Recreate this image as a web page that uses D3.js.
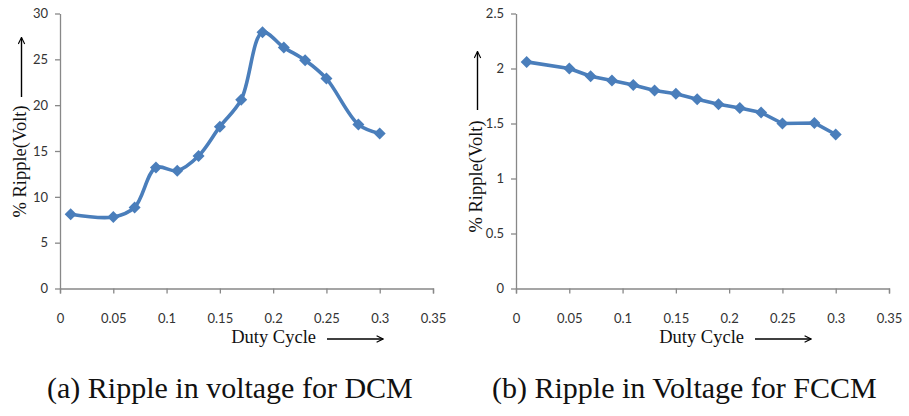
<!DOCTYPE html>
<html>
<head>
<meta charset="utf-8">
<script src="https://cdn.jsdelivr.net/npm/d3@7"></script>
<style>
body { margin: 0; background: #fff; }
.tick text { font-family: Lato, "Open Sans", sans-serif; font-size: 13px; fill: #333; }
.axis path, .axis line { stroke: #888; stroke-width: 1.3; }
.lbl { font-family: "Liberation Serif", "DejaVu Serif", serif; font-size: 18.5px; fill: #111; }
.cap { font-family: "Liberation Serif", "DejaVu Serif", serif; font-size: 30px; fill: #111; }
</style>
</head>
<body>
<svg width="909" height="416"></svg>
<script>
var duty = [0.01, 0.05, 0.07, 0.09, 0.11, 0.13, 0.15, 0.17, 0.19, 0.21, 0.23, 0.25, 0.28, 0.3];
var rippleDCM = [8.1, 7.8, 8.85, 13.2, 12.85, 14.45, 17.65, 20.6, 27.95, 26.3, 24.9, 22.9, 17.9, 16.9];
var rippleFCCM = [2.06, 2.0, 1.93, 1.89, 1.85, 1.80, 1.77, 1.72, 1.675, 1.64, 1.60, 1.50, 1.505, 1.40];
var xTicks = [0, 0.05, 0.1, 0.15, 0.2, 0.25, 0.3, 0.35];
var yTicksDCM = [0, 5, 10, 15, 20, 25, 30];
var yTicksFCCM = [0, 0.5, 1, 1.5, 2, 2.5];
var captions = ["(a) Ripple in voltage for DCM", "(b) Ripple in Voltage for FCCM"];

var svg = d3.select("svg");
var blue = "#4a7ebb";

svg.append("defs").append("marker")
  .attr("id", "arr")
  .attr("viewBox", "0 0 10 10")
  .attr("refX", 9).attr("refY", 5)
  .attr("markerWidth", 8).attr("markerHeight", 8)
  .attr("markerUnits", "userSpaceOnUse")
  .attr("orient", "auto")
  .append("path")
  .attr("d", "M1,1 L9,5 L1,9")
  .attr("fill", "none")
  .attr("stroke", "#000")
  .attr("stroke-width", 1.4);

// o: left, yMax, yTicks, vals, curve, cap, capX, ylab (center), yArr [from,to], xlab end, xArr [from,to]
function panel(o) {
  var g = svg.append("g").attr("transform", "translate(" + o.left + ",13.5)");
  var w = 373, h = 275;
  var x = d3.scaleLinear().domain([0, 0.35]).range([0, w]);
  var y = d3.scaleLinear().domain([0, o.yMax]).range([h, 0]);

  g.append("g").attr("class", "axis")
    .attr("transform", "translate(0," + h + ")")
    .call(d3.axisBottom(x).tickValues(xTicks).tickFormat(d3.format("")).tickSizeInner(5).tickSizeOuter(5).tickPadding(20));

  g.append("g").attr("class", "axis")
    .call(d3.axisLeft(y).tickValues(o.yTicks).tickFormat(d3.format("")).tickSizeInner(5).tickSizeOuter(0).tickPadding(7));

  var pts = duty.map(function(d, i) { return [d, o.vals[i]]; });
  var line = d3.line().x(function(d) { return x(d[0]); }).y(function(d) { return y(d[1]); }).curve(o.curve);

  g.append("path")
    .datum(pts)
    .attr("d", line)
    .attr("fill", "none")
    .attr("stroke", blue)
    .attr("stroke-width", 3.6)
    .attr("stroke-linejoin", "round");

  g.selectAll(".pt")
    .data(pts)
    .enter()
    .append("path")
    .attr("class", "pt")
    .attr("transform", function(d) { return "translate(" + x(d[0]) + "," + y(d[1]) + ")"; })
    .attr("d", "M0,-6 L6,0 L0,6 L-6,0 Z")
    .attr("fill", blue);

  // y label + arrow
  g.append("text").attr("class", "lbl")
    .attr("transform", "translate(-34," + o.ylab + ") rotate(-90)")
    .attr("text-anchor", "middle")
    .text("% Ripple(Volt)");
  g.append("line")
    .attr("x1", -38.5).attr("x2", -38.5)
    .attr("y1", o.yArr[0]).attr("y2", o.yArr[1])
    .attr("stroke", "#000").attr("stroke-width", 1.4)
    .attr("marker-end", "url(#arr)");

  // x label + arrow
  g.append("text").attr("class", "lbl")
    .attr("x", o.xlab).attr("y", 329.5)
    .attr("text-anchor", "end")
    .text("Duty Cycle");
  g.append("line")
    .attr("x1", o.xArr[0]).attr("x2", o.xArr[1])
    .attr("y1", 325.5).attr("y2", 325.5)
    .attr("stroke", "#000").attr("stroke-width", 1.4)
    .attr("marker-end", "url(#arr)");

  svg.append("text").attr("class", "cap")
    .attr("x", o.capX).attr("y", 398)
    .text(o.cap);
}

panel({left: 60, yMax: 30, yTicks: yTicksDCM, vals: rippleDCM, curve: d3.curveCatmullRom.alpha(0.5),
  cap: captions[0], capX: 47, ylab: 148, yArr: [83.5, 24], xlab: 256, xArr: [267, 323]});
panel({left: 516, yMax: 2.5, yTicks: yTicksFCCM, vals: rippleFCCM, curve: d3.curveLinear,
  cap: captions[1], capX: 492, ylab: 163, yArr: [96.5, 38], xlab: 228, xArr: [239, 295]});
</script>
</body>
</html>
